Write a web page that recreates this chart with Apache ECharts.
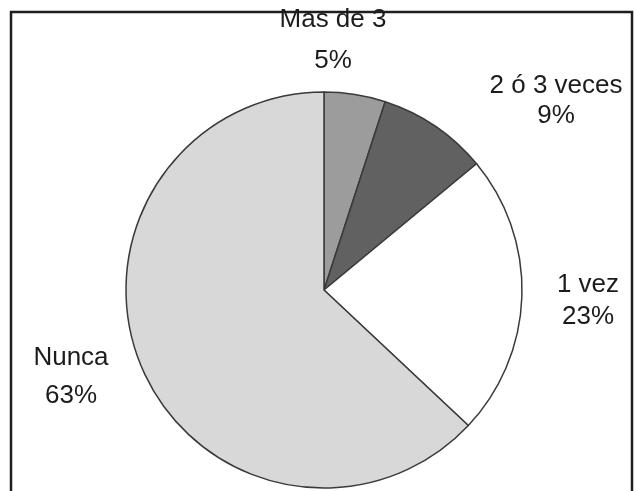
<!DOCTYPE html>
<html>
<head>
<meta charset="utf-8">
<script src="https://cdn.jsdelivr.net/npm/echarts@6/dist/echarts.min.js"></script>
<style>
  html, body { margin: 0; padding: 0; background: #fff; }
  #chart { width: 635px; height: 491px; }
</style>
</head>
<body>
<div id="chart"></div>
<script>
// Frecuencia de respuesta (porcentaje)
const categories = ['Mas de 3', '2 ó 3 veces', '1 vez', 'Nunca'];
const values = [5, 9, 23, 63];
const sliceColors = ['#9c9c9c', '#616161', '#ffffff', '#d8d8d8'];

// Label anchors (centre of each two-line label) and their line spacing
const labelAnchors = [[333, 40], [556, 101], [588, 301], [71, 377]];
const labelLineHeights = [41, 30, 32, 38];

const chart = echarts.init(document.getElementById('chart'), null, { renderer: 'canvas' });

chart.setOption({
  backgroundColor: '#ffffff',
  animation: false,
  graphic: [{
    type: 'rect',
    z: -1,
    shape: { x: 11, y: 12, width: 621, height: 484 },
    style: { fill: 'none', stroke: '#1e1e1e', lineWidth: 2.5 }
  }],
  series: [{
    type: 'pie',
    center: [324, 290],
    radius: 198,
    startAngle: 90,
    clockwise: true,
    avoidLabelOverlap: false,
    itemStyle: { borderColor: '#3a3a3a', borderWidth: 1.5 },
    label: {
      show: true,
      position: 'outside',
      formatter: '{b}\n{d}%',
      fontFamily: 'Liberation Sans, Arial, sans-serif',
      fontSize: 26,
      color: '#1c1c1c',
      align: 'center'
    },
    labelLine: { show: false },
    emphasis: { disabled: true },
    labelLayout: function (params) {
      const i = params.dataIndex;
      return {
        x: labelAnchors[i][0],
        y: labelAnchors[i][1],
        align: 'center',
        verticalAlign: 'middle'
      };
    },
    data: categories.map((name, i) => ({
      name: name,
      value: values[i],
      itemStyle: { color: sliceColors[i] },
      label: { lineHeight: labelLineHeights[i] }
    }))
  }]
});
</script>
</body>
</html>
